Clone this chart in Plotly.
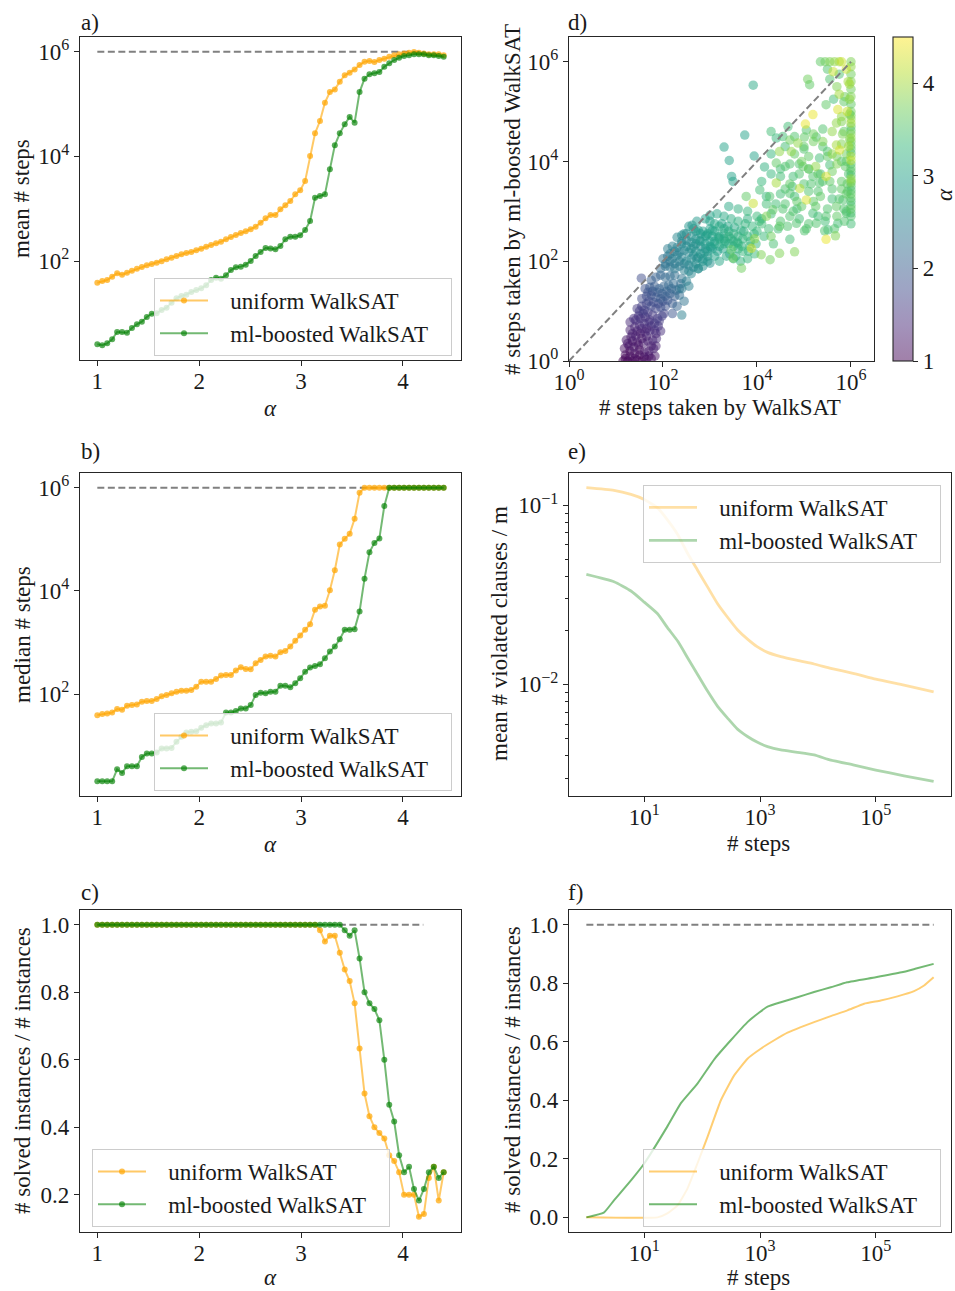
import plotly.graph_objects as go
from plotly.colors import sequential, hex_to_rgb

W, H = 955, 1291
FONT = "Liberation Serif"
FS = 23
TXT = "#1a1a1a"


def px(x):
    return x / W


def py(y):
    return 1 - y / H


# ---------------- data ----------------
alpha = [1.0, 1.0486, 1.0971, 1.1457, 1.1943, 1.2429, 1.2914, 1.34, 1.3886, 1.4371,
         1.4857, 1.5343, 1.5829, 1.6314, 1.68, 1.7286, 1.7771, 1.8257, 1.8743, 1.9229,
         1.9714, 2.02, 2.0686, 2.1171, 2.1657, 2.2143, 2.2629, 2.3114, 2.36, 2.4086,
         2.4571, 2.5057, 2.5543, 2.6029, 2.6514, 2.7, 2.7486, 2.7971, 2.8457, 2.8943,
         2.9429, 2.9914, 3.04, 3.0886, 3.1371, 3.1857, 3.2343, 3.2829, 3.3314, 3.38,
         3.4286, 3.4771, 3.5257, 3.5743, 3.6229, 3.6714, 3.72, 3.7686, 3.8171, 3.8657,
         3.9143, 3.9629, 4.0114, 4.06, 4.1086, 4.1571, 4.2057, 4.2543, 4.3029, 4.3514, 4.4]

# panel a: log10(mean # steps)
a_uniform_log10 = [1.586, 1.618, 1.637, 1.701, 1.764, 1.739, 1.777, 1.815, 1.854, 1.885,
                   1.917, 1.943, 1.968, 1.994, 2.032, 2.064, 2.096, 2.127, 2.153, 2.172,
                   2.204, 2.236, 2.274, 2.306, 2.338, 2.370, 2.414, 2.459, 2.497, 2.535,
                   2.567, 2.605, 2.656, 2.733, 2.815, 2.880, 2.879, 2.987, 3.064, 3.147,
                   3.274, 3.350, 3.529, 4.006, 4.440, 4.675, 5.026, 5.229, 5.280, 5.427,
                   5.548, 5.599, 5.662, 5.745, 5.809, 5.822, 5.803, 5.841, 5.866, 5.905,
                   5.930, 5.949, 5.968, 5.981, 5.994, 5.981, 5.968, 5.949, 5.949, 5.949, 5.930]
a_ml_log10 = [0.408, 0.389, 0.427, 0.503, 0.643, 0.643, 0.631, 0.720, 0.790, 0.841,
              0.930, 0.994, 1.000, 1.064, 1.108, 1.204, 1.287, 1.331, 1.357, 1.408,
              1.446, 1.478, 1.535, 1.637, 1.682, 1.663, 1.726, 1.828, 1.879, 1.892,
              1.930, 2.000, 2.096, 2.172, 2.250, 2.240, 2.223, 2.287, 2.414, 2.465,
              2.465, 2.491, 2.592, 2.764, 3.210, 3.242, 3.274, 3.752, 4.210, 4.440,
              4.612, 4.752, 4.643, 5.229, 5.484, 5.567, 5.586, 5.612, 5.713, 5.777,
              5.841, 5.885, 5.917, 5.930, 5.949, 5.949, 5.949, 5.930, 5.930, 5.917, 5.905]

# panel b: log10(median # steps)
b_uniform_log10 = [1.591, 1.611, 1.624, 1.643, 1.708, 1.695, 1.773, 1.786, 1.799, 1.851,
                   1.864, 1.864, 1.903, 1.955, 1.980, 2.013, 2.045, 2.065, 2.065, 2.078,
                   2.143, 2.240, 2.240, 2.240, 2.292, 2.357, 2.370, 2.370, 2.454, 2.519,
                   2.486, 2.480, 2.596, 2.661, 2.726, 2.740, 2.726, 2.810, 2.836, 2.921,
                   3.031, 3.134, 3.245, 3.355, 3.634, 3.699, 3.712, 4.010, 4.399, 4.898,
                   5.008, 5.105, 5.397, 5.903, 6.0, 6.0, 6.0, 6.0, 6.0, 6.0,
                   6.0, 6.0, 6.0, 6.0, 6.0, 6.0, 6.0, 6.0, 6.0, 6.0, 6.0]
b_ml_log10 = [0.308, 0.308, 0.308, 0.308, 0.541, 0.470, 0.600, 0.600, 0.600, 0.781,
              0.846, 0.846, 0.866, 0.943, 0.943, 0.956, 1.073, 1.170, 1.254, 1.267,
              1.280, 1.345, 1.397, 1.429, 1.429, 1.449, 1.643, 1.643, 1.669, 1.721,
              1.721, 1.786, 1.981, 2.026, 2.013, 2.045, 2.045, 2.162, 2.162, 2.130,
              2.208, 2.305, 2.434, 2.512, 2.545, 2.577, 2.694, 2.823, 2.921, 3.063,
              3.245, 3.245, 3.258, 3.601, 4.237, 4.749, 4.930, 5.015, 5.643, 6.0,
              6.0, 6.0, 6.0, 6.0, 6.0, 6.0, 6.0, 6.0, 6.0, 6.0, 6.0]

# panel c: solved fraction
c_uniform = [1.0, 1.0, 1.0, 1.0, 1.0, 1.0, 1.0, 1.0, 1.0, 1.0,
             1.0, 1.0, 1.0, 1.0, 1.0, 1.0, 1.0, 1.0, 1.0, 1.0,
             1.0, 1.0, 1.0, 1.0, 1.0, 1.0, 1.0, 1.0, 1.0, 1.0,
             1.0, 1.0, 1.0, 1.0, 1.0, 1.0, 1.0, 1.0, 1.0, 1.0,
             1.0, 1.0, 1.0, 1.0, 1.0, 0.983, 0.95, 0.967, 0.967, 0.917,
             0.867, 0.833, 0.767, 0.633, 0.5, 0.433, 0.4, 0.383, 0.367, 0.317,
             0.3, 0.267, 0.2, 0.2, 0.2, 0.135, 0.143, 0.25, 0.283, 0.183, 0.267]
c_ml = [1.0, 1.0, 1.0, 1.0, 1.0, 1.0, 1.0, 1.0, 1.0, 1.0,
        1.0, 1.0, 1.0, 1.0, 1.0, 1.0, 1.0, 1.0, 1.0, 1.0,
        1.0, 1.0, 1.0, 1.0, 1.0, 1.0, 1.0, 1.0, 1.0, 1.0,
        1.0, 1.0, 1.0, 1.0, 1.0, 1.0, 1.0, 1.0, 1.0, 1.0,
        1.0, 1.0, 1.0, 1.0, 1.0, 1.0, 1.0, 1.0, 1.0, 1.0,
        0.983, 0.967, 0.983, 0.9, 0.8, 0.767, 0.75, 0.717, 0.6, 0.467,
        0.417, 0.317, 0.267, 0.283, 0.217, 0.183, 0.217, 0.267, 0.283, 0.25, 0.267]

# panel d: log10 of steps (x: WalkSAT, y: ml-boosted) and alpha, grouped by region
r1_x = [1.15, 1.25, 1.35, 1.45, 1.55, 1.65, 1.75, 1.83, 1.2, 1.3, 1.4, 1.5, 1.6, 1.7, 1.8,
        1.18, 1.28, 1.38, 1.48, 1.58, 1.68, 1.78, 1.86, 1.22, 1.32, 1.42, 1.52, 1.62, 1.72, 1.82,
        1.3, 1.4, 1.5, 1.6, 1.7, 1.9, 1.2, 1.3, 1.4, 1.5, 1.6, 1.7, 1.35, 1.45, 1.55, 1.65, 1.75, 1.85]
r1_y = [0.0, 0.0, 0.0, 0.02, 0.0, 0.03, 0.05, 0.1, 0.12, 0.1, 0.15, 0.12, 0.18, 0.2, 0.25,
        0.25, 0.3, 0.28, 0.32, 0.36, 0.4, 0.42, 0.45, 0.42, 0.48, 0.5, 0.55, 0.58, 0.6, 0.62,
        0.62, 0.68, 0.72, 0.75, 0.78, 0.7, 0.05, 0.2, 0.05, 0.22, 0.08, 0.1, 0.4, 0.6, 0.45, 0.65, 0.3, 0.3]
r1_a = [1.0, 1.05, 1.0, 1.1, 1.0, 1.15, 1.1, 1.2, 1.05, 1.1, 1.15, 1.05, 1.2, 1.25, 1.3,
        1.1, 1.15, 1.2, 1.1, 1.25, 1.3, 1.35, 1.4, 1.2, 1.25, 1.3, 1.2, 1.35, 1.4, 1.45,
        1.3, 1.35, 1.4, 1.45, 1.5, 1.5, 1.0, 1.05, 1.05, 1.1, 1.1, 1.15, 1.15, 1.25, 1.2, 1.3, 1.25, 1.3]

r2_x = [1.38, 1.48, 1.58, 1.68, 1.78, 1.88, 1.98, 1.45, 1.55, 1.65, 1.75, 1.85, 1.95, 2.05, 2.2,
        1.55, 1.65, 1.75, 1.85, 1.95, 2.05, 2.15, 1.62, 1.72, 1.82, 1.92, 2.02, 2.12, 2.22, 2.35,
        1.54, 1.75, 1.85, 1.95, 2.05, 2.15, 2.25, 2.4, 2.2, 2.3, 2.4, 2.45, 2.35]
r2_y = [0.85, 0.9, 0.95, 0.98, 0.92, 0.85, 0.9, 1.05, 1.1, 1.15, 1.1, 1.05, 1.08, 1.1, 1.15,
        1.25, 1.3, 1.32, 1.28, 1.25, 1.3, 1.35, 1.45, 1.48, 1.5, 1.45, 1.5, 1.52, 1.55, 1.45,
        1.66, 1.62, 1.68, 1.72, 1.68, 1.7, 1.72, 1.65, 0.95, 1.1, 0.92, 1.2, 1.32]
r2_a = [1.45, 1.5, 1.55, 1.6, 1.55, 1.6, 1.65, 1.6, 1.65, 1.7, 1.75, 1.7, 1.8, 1.85, 1.95,
        1.75, 1.8, 1.85, 1.9, 1.95, 2.0, 2.05, 1.85, 1.95, 2.0, 2.05, 2.1, 2.15, 2.2, 2.25,
        1.8, 2.0, 2.05, 2.1, 2.15, 2.2, 2.25, 2.3, 1.9, 2.1, 2.5, 2.3, 2.2]

r3_x = [1.95, 2.05, 2.15, 2.25, 2.35, 2.45, 2.55, 2.0, 2.1, 2.2, 2.3, 2.4, 2.5, 2.6, 2.7,
        2.1, 2.2, 2.3, 2.4, 2.5, 2.6, 2.7, 2.8, 2.3, 2.4, 2.5, 2.6, 2.7, 2.8, 2.9,
        2.55, 2.65, 2.75, 2.85, 2.95, 3.05, 2.5, 2.6, 2.75, 2.85, 2.95, 3.0, 2.4, 2.55,
        2.45, 2.62, 2.72, 2.9, 3.0]
r3_y = [1.85, 1.9, 1.88, 1.85, 1.9, 1.82, 1.8, 2.05, 2.1, 2.05, 2.12, 2.08, 2.0, 2.05, 1.95,
        2.25, 2.3, 2.28, 2.35, 2.3, 2.25, 2.2, 2.15, 2.48, 2.52, 2.55, 2.5, 2.45, 2.4, 2.35,
        2.7, 2.65, 2.62, 2.6, 2.55, 2.5, 1.6, 1.75, 1.85, 2.0, 2.1, 1.96, 1.45, 1.5,
        2.55, 2.72, 2.8, 2.85, 2.92]
r3_a = [2.2, 2.3, 2.35, 2.4, 2.45, 2.5, 2.55, 2.3, 2.35, 2.45, 2.5, 2.55, 2.6, 2.65, 2.7,
        2.45, 2.5, 2.55, 2.6, 2.65, 2.7, 2.75, 2.8, 2.6, 2.65, 2.7, 2.75, 2.8, 2.85, 2.9,
        2.8, 2.85, 2.9, 2.95, 3.0, 3.0, 2.5, 2.6, 2.7, 2.8, 2.85, 2.75, 2.4, 2.5,
        2.7, 2.8, 2.85, 2.95, 3.0]

r4_x = [3.0, 3.1, 3.2, 3.3, 3.4, 3.5, 3.6, 3.7, 3.8, 3.0, 3.1, 3.2, 3.3, 3.4, 3.5, 3.6, 3.7, 3.85,
        3.1, 3.2, 3.35, 3.5, 3.65, 3.8, 3.95, 3.15, 3.3, 3.45, 3.6, 3.75, 3.9, 4.0,
        3.4, 3.6, 3.8, 4.0, 4.1]
r4_y = [2.8, 2.75, 2.7, 2.65, 2.6, 2.55, 2.5, 2.45, 2.5, 2.4, 2.35, 2.3, 2.45, 2.35, 2.3, 2.25, 2.2, 2.3,
        2.1, 2.0, 2.1, 2.05, 2.0, 2.05, 2.15, 2.95, 2.9, 2.85, 2.8, 2.75, 2.7, 2.6,
        3.1, 3.05, 3.0, 2.9, 2.75]
r4_a = [3.0, 3.05, 3.1, 3.1, 3.15, 3.2, 3.2, 3.25, 3.3, 2.95, 3.0, 3.05, 3.1, 3.15, 3.2, 3.25, 3.3, 3.35,
        3.0, 3.05, 3.1, 3.2, 3.25, 3.3, 3.35, 3.05, 3.1, 3.15, 3.2, 3.25, 3.3, 3.35,
        3.1, 3.2, 3.3, 3.35, 3.4]

r5_x = [3.67, 3.49, 3.88, 4.09, 4.28, 4.48, 4.8, 4.7, 4.3, 5.47, 5.67, 5.44, 3.45, 3.95, 4.2, 5.51, 5.01]
r5_y = [1.86, 2.06, 2.26, 2.13, 2.03, 2.16, 2.19, 2.44, 2.5, 2.44, 2.51, 2.61, 2.23, 2.45, 2.9, 2.63, 2.61]
r5_a = [3.7, 3.7, 4.3, 3.8, 3.7, 3.8, 3.8, 3.4, 3.7, 4.4, 3.8, 3.5, 3.6, 3.9, 3.8, 3.4, 3.5]

r6_x = [6.0, 6.0, 6.0, 6.0, 6.0, 6.0, 6.0, 6.0, 6.0, 6.0, 6.0, 6.0, 6.0, 6.0, 6.0, 6.0, 6.0, 6.0,
        6.0, 6.0, 6.0, 6.0, 6.0, 6.0,
        5.9, 5.93, 5.88, 5.95, 5.85, 5.92, 5.87, 5.94, 5.9, 5.86]
r6_y = [2.9, 3.05, 3.2, 3.35, 3.5, 3.65, 3.8, 3.95, 4.1, 4.25, 4.4, 4.55, 4.7, 4.85, 5.0, 5.15, 5.3, 5.45,
        5.6, 5.75, 5.9, 6.0, 2.75, 3.6,
        3.0, 3.4, 3.9, 4.3, 4.6, 5.0, 5.3, 5.6, 5.85, 2.8]
r6_a = [3.5, 3.6, 3.4, 3.6, 3.5, 3.9, 3.5, 3.5, 4.0, 3.6, 3.7, 3.8, 3.6, 3.9, 3.7, 3.6, 3.8, 3.7,
        3.8, 3.7, 3.9, 3.8, 3.4, 3.8,
        3.5, 3.5, 3.6, 4.0, 3.6, 4.2, 3.7, 4.0, 4.2, 3.5]

r7_x = [5.35, 5.45, 5.55, 5.65, 5.75, 5.8, 5.5, 5.62, 5.55, 5.75, 5.08, 5.12, 5.75, 5.8, 5.82, 5.7, 5.85]
r7_y = [6.0, 6.0, 6.0, 6.0, 6.0, 6.0, 5.85, 5.8, 5.65, 5.75, 5.65, 5.54, 5.35, 4.9, 4.55, 5.5, 5.2]
r7_a = [3.6, 3.7, 3.8, 3.9, 4.0, 4.2, 3.5, 4.2, 3.5, 3.5, 3.7, 3.6, 4.0, 3.9, 3.8, 3.8, 3.6]

r8_x = [3.92, 5.63, 5.47, 5.19, 5.03, 4.66, 4.41, 5.01, 5.26, 4.87, 4.73, 4.48, 5.69, 5.72, 5.69, 5.76,
        3.74, 3.3, 3.41, 3.94, 4.3, 4.55, 4.1, 4.3, 4.7, 5.05]
r8_y = [5.53, 5.25, 5.14, 4.94, 4.75, 4.70, 4.47, 4.49, 4.49, 4.37, 4.2, 4.2, 4.77, 5.04, 4.33, 4.23,
        4.53, 4.29, 4.02, 4.11, 4.15, 4.5, 3.6, 4.6, 4.43, 4.63]
r8_a = [3.1, 3.4, 3.6, 4.4, 4.4, 3.4, 3.3, 3.6, 3.5, 3.9, 3.9, 3.9, 3.9, 4.3, 4.0, 4.3,
        3.0, 3.0, 3.0, 3.0, 3.3, 3.4, 3.3, 3.4, 3.7, 3.5]

r9_x = [3.46, 3.49, 4.16, 4.41, 4.77, 4.98, 5.33, 5.55, 5.19, 5.47, 5.33, 4.91, 5.05, 4.7, 4.41,
        4.27, 4.06, 3.92, 3.77, 4.34, 4.77, 5.19, 5.47, 5.69, 5.83, 5.9, 5.72, 5.26, 4.84, 4.48,
        4.6, 4.85, 5.1, 5.35, 5.6, 5.6, 5.4, 5.1, 4.6, 4.95, 5.25, 5.8, 5.8, 4.5, 4.2]
r9_y = [3.7, 3.6, 3.89, 3.97, 3.7, 3.9, 4.07, 3.93, 3.7, 3.7, 3.57, 3.46, 3.23, 3.36, 3.57,
        3.3, 3.43, 3.16, 3.3, 3.03, 3.0, 2.96, 2.9, 3.1, 3.23, 2.96, 2.76, 2.76, 2.76, 2.7,
        3.15, 3.2, 3.4, 3.3, 3.45, 3.8, 4.3, 4.1, 3.9, 4.0, 3.9, 3.6, 4.0, 3.35, 3.15]
r9_a = [3.0, 3.0, 3.2, 3.6, 3.4, 3.6, 3.4, 3.4, 3.5, 4.3, 3.5, 4.1, 4.3, 3.5, 4.0,
        3.5, 3.4, 4.2, 3.6, 3.6, 3.5, 3.4, 3.5, 3.6, 3.5, 3.5, 3.4, 3.5, 3.5, 3.6,
        3.5, 3.6, 3.5, 3.6, 3.5, 3.7, 3.5, 3.6, 3.5, 3.7, 3.9, 3.6, 3.5, 3.4, 3.4]

r10_x = [1.25, 1.35, 1.45, 1.55, 1.65, 1.75, 1.85, 1.95, 1.3, 1.42, 1.52, 1.62, 1.72, 1.82, 1.92, 2.02,
         1.5, 1.6, 1.7, 1.8, 1.9, 2.0, 2.1, 2.25, 1.68, 1.78, 1.88, 1.98, 2.08, 2.18, 2.28, 2.38]
r10_y = [0.35, 0.55, 0.38, 0.65, 0.5, 0.7, 0.55, 0.6, 0.78, 0.82, 0.85, 0.88, 0.82, 0.75, 0.8, 0.95,
         1.0, 1.02, 1.2, 1.18, 1.15, 1.2, 1.22, 1.3, 1.38, 1.4, 1.38, 1.35, 1.4, 1.45, 1.42, 1.55]
r10_a = [1.2, 1.3, 1.2, 1.35, 1.3, 1.4, 1.35, 1.45, 1.4, 1.45, 1.5, 1.5, 1.5, 1.55, 1.6, 1.7,
         1.6, 1.65, 1.75, 1.8, 1.8, 1.85, 1.9, 2.0, 1.85, 1.9, 1.95, 2.0, 2.05, 2.1, 2.15, 2.2]

r11_x = [2.05, 2.15, 2.25, 2.35, 2.45, 2.55, 2.65, 2.75, 2.85, 2.95,
         2.15, 2.25, 2.35, 2.45, 2.55, 2.65, 2.75, 2.85, 2.95, 3.05,
         2.4, 2.5, 2.6, 2.7, 2.8, 2.9, 3.0, 3.1, 3.2, 3.3,
         2.7, 2.8, 2.9, 3.0, 3.1, 3.2, 3.3, 3.4, 3.5, 3.6]
r11_y = [1.95, 2.0, 1.95, 2.0, 1.95, 1.92, 1.88, 1.85, 1.9, 2.0,
         2.15, 2.2, 2.18, 2.22, 2.18, 2.12, 2.08, 2.05, 2.2, 2.25,
         2.4, 2.42, 2.38, 2.35, 2.3, 2.25, 2.3, 2.4, 2.5, 2.55,
         2.6, 2.55, 2.5, 2.65, 2.6, 2.45, 2.35, 2.5, 2.4, 2.35]
r11_a = [2.3, 2.35, 2.4, 2.45, 2.5, 2.55, 2.6, 2.65, 2.7, 2.8,
         2.4, 2.45, 2.5, 2.55, 2.6, 2.65, 2.7, 2.75, 2.85, 2.9,
         2.55, 2.6, 2.65, 2.7, 2.75, 2.8, 2.9, 3.0, 3.05, 3.1,
         2.8, 2.85, 2.9, 3.0, 3.05, 3.1, 3.15, 3.2, 3.2, 3.25]

r12_x = [4.1, 4.3, 4.5, 4.7, 4.9, 5.1, 5.3, 5.5, 5.7, 5.9,
         4.2, 4.4, 4.6, 4.8, 5.0, 5.2, 5.4, 5.6, 5.8, 5.95,
         4.3, 4.5, 4.7, 4.9, 5.1, 5.3, 5.5, 5.7, 5.9, 5.97,
         4.6, 4.8, 5.0, 5.2, 5.4, 5.6, 5.8, 5.97, 5.97, 5.97]
r12_y = [2.85, 2.95, 2.8, 2.9, 2.85, 2.75, 2.9, 3.05, 2.9, 3.35,
         3.3, 3.15, 3.45, 3.3, 3.55, 3.2, 3.6, 3.25, 3.45, 3.75,
         3.75, 3.7, 3.95, 3.75, 3.85, 3.75, 4.2, 4.1, 4.0, 4.45,
         4.3, 4.15, 4.25, 4.4, 4.65, 4.6, 4.8, 4.95, 5.25, 5.55]
r12_a = [3.3, 3.4, 3.5, 3.5, 3.4, 3.5, 3.4, 3.5, 3.6, 3.6,
         3.3, 3.4, 3.5, 3.4, 3.5, 3.6, 3.5, 3.4, 3.6, 3.5,
         3.3, 3.4, 3.5, 3.5, 3.4, 3.6, 3.5, 3.7, 3.6, 3.8,
         3.4, 3.6, 3.5, 3.7, 3.5, 3.9, 3.8, 3.7, 3.9, 4.0]

r13_x = [2.65, 2.78, 2.92, 3.05, 3.18, 3.32, 3.45, 3.58, 3.72, 3.86,
         2.72, 2.88, 3.02, 3.16, 3.28, 3.42, 3.55, 3.68, 3.82, 3.98,
         3.25, 3.38, 3.52, 3.66, 3.8, 3.94, 4.05, 4.15, 4.25, 4.35]
r13_y = [2.3, 2.42, 2.52, 2.62, 2.48, 2.4, 2.45, 2.38, 2.6, 2.4,
         2.05, 2.18, 2.28, 2.2, 2.25, 2.15, 2.1, 2.3, 2.2, 2.35,
         2.75, 2.7, 2.68, 2.62, 2.85, 2.55, 2.8, 2.5, 2.65, 2.35]
r13_a = [2.75, 2.8, 2.9, 2.95, 3.0, 3.05, 3.1, 3.15, 3.2, 3.25,
         2.7, 2.8, 2.9, 2.95, 3.0, 3.1, 3.15, 3.2, 3.25, 3.3,
         3.0, 3.05, 3.1, 3.15, 3.2, 3.25, 3.3, 3.35, 3.4, 3.45]

r14_x = [4.45, 4.65, 4.85, 5.05, 5.25, 5.45, 5.65, 5.85, 4.55, 4.75, 4.95, 5.15, 5.35, 5.55, 5.75, 5.92,
         4.5, 4.7, 4.9, 5.1, 5.3, 5.5, 5.7, 5.9, 4.8, 5.0, 5.2, 5.4, 5.6, 5.8]
r14_y = [2.65, 2.7, 3.05, 2.65, 3.1, 2.8, 2.65, 3.05, 3.05, 3.5, 3.1, 3.55, 3.75, 3.6, 3.25, 3.55,
         3.85, 3.55, 3.95, 3.85, 3.4, 4.1, 3.95, 4.15, 4.5, 4.3, 4.55, 4.4, 4.15, 4.35]
r14_a = [3.4, 3.5, 3.4, 3.5, 3.6, 3.4, 3.5, 3.5, 3.5, 3.4, 3.6, 3.5, 3.4, 3.6, 3.5, 3.6,
         3.4, 3.6, 3.5, 3.7, 3.5, 3.6, 3.8, 3.7, 3.5, 3.6, 3.7, 3.8, 3.9, 3.8]

r15_x = [6.0, 6.0, 6.0, 6.0, 6.0, 6.0, 6.0, 6.0, 6.0, 6.0, 6.0, 6.0, 6.0, 6.0]
r15_y = [2.97, 3.12, 3.27, 3.42, 3.57, 3.72, 3.87, 4.02, 4.17, 4.32, 4.47, 4.62, 4.77, 4.92]
r15_a = [3.4, 3.5, 3.6, 3.5, 3.7, 3.5, 3.6, 4.1, 3.5, 3.7, 3.9, 3.6, 4.0, 3.7]

# panel e: mean violated clauses / m
e_steps = [1, 3, 5.9, 10, 17, 25, 38, 56, 83, 124, 185, 275, 408, 608, 906, 1350,
           2290, 4440, 8600, 16700, 42300, 100000, 308000, 1000000]
e_uniform = [0.1252, 0.1210, 0.1148, 0.1076, 0.0966, 0.0831, 0.0684, 0.0539, 0.0435, 0.0350,
             0.0282, 0.0237, 0.0202, 0.0179, 0.0162, 0.0151, 0.0143, 0.0136, 0.0130, 0.0123,
             0.0115, 0.0107, 0.0099, 0.0091]
e_ml = [0.0411, 0.0374, 0.0332, 0.0288, 0.0248, 0.0208, 0.0174, 0.0141, 0.0114, 0.00918,
        0.00755, 0.00649, 0.00563, 0.00512, 0.00475, 0.00450, 0.00431, 0.00418, 0.00404, 0.00378,
        0.00355, 0.00333, 0.00309, 0.00288]

# panel f: solved fraction vs steps
f_uniform_steps = [1, 17, 25, 38, 56, 83, 124, 211, 358, 608, 1030, 1760, 2990, 5070, 8600,
                   16700, 32400, 63000, 122000, 237000, 459000, 684000, 1000000]
f_uniform = [0.0, 0.0, 0.0136, 0.042, 0.099, 0.184, 0.275, 0.40, 0.485, 0.542, 0.576, 0.605,
             0.631, 0.65, 0.667, 0.6875, 0.707, 0.730, 0.741, 0.755, 0.773, 0.792, 0.82]
f_ml_steps = [1, 2, 3, 6, 10, 25, 43, 83, 162, 313, 608, 970, 1350, 2290, 4440, 8600,
              16700, 32000, 100000, 280000, 480000, 1000000]
f_ml = [0.0, 0.016, 0.058, 0.128, 0.184, 0.31, 0.39, 0.457, 0.54, 0.605, 0.667, 0.70, 0.72,
        0.735, 0.752, 0.77, 0.786, 0.803, 0.82, 0.837, 0.849, 0.866]

max_steps = 1000000
ref_alpha = [1.0, 4.2]

names = ["uniform WalkSAT", "ml-boosted WalkSAT"]

# ---------------- figure ----------------
fig = go.Figure()

OR_L = "rgba(255,165,0,0.6)"
OR_M = "rgba(255,165,0,0.7)"
GR_L = "rgba(0,128,0,0.55)"
GR_M = "rgba(0,128,0,0.65)"
DASH = dict(color="#808080", width=2, dash="7px,3.5px")


def label(n):
    return "\u00a0\u00a0\u00a0" + n + "\u00a0\u00a0\u00a0"


def pow10(v):
    return [10 ** t for t in v]


def ref_line(x, y, xa, ya):
    fig.add_trace(go.Scatter(x=x, y=y, mode="lines", line=DASH, xaxis=xa, yaxis=ya,
                             showlegend=False, hoverinfo="skip"))


def lm(x, y, lc, mc, name, xa, ya, leg):
    fig.add_trace(go.Scatter(x=x, y=y, mode="lines+markers", name=label(name),
                             line=dict(color=lc, width=2), marker=dict(color=mc, size=6),
                             xaxis=xa, yaxis=ya, legend=leg, legendgroup=leg + name))


# a
ref_line(ref_alpha, [max_steps, max_steps], "x", "y")
lm(alpha, pow10(a_uniform_log10), OR_L, OR_M, names[0], "x", "y", "legend")
lm(alpha, pow10(a_ml_log10), GR_L, GR_M, names[1], "x", "y", "legend")
# b
ref_line(ref_alpha, [max_steps, max_steps], "x2", "y2")
lm(alpha, pow10(b_uniform_log10), OR_L, OR_M, names[0], "x2", "y2", "legend2")
lm(alpha, pow10(b_ml_log10), GR_L, GR_M, names[1], "x2", "y2", "legend2")
# c
ref_line(ref_alpha, [1.0, 1.0], "x3", "y3")
lm(alpha, c_uniform, OR_L, OR_M, names[0], "x3", "y3", "legend3")
lm(alpha, c_ml, GR_L, GR_M, names[1], "x3", "y3", "legend3")

# d
d_lx = (r1_x + r10_x + r2_x + r3_x + r11_x + r13_x + r4_x + r5_x + r12_x + r14_x + r15_x
        + r6_x + r7_x + r8_x + r9_x)
d_ly = (r1_y + r10_y + r2_y + r3_y + r11_y + r13_y + r4_y + r5_y + r12_y + r14_y + r15_y
        + r6_y + r7_y + r8_y + r9_y)
d_a = (r1_a + r10_a + r2_a + r3_a + r11_a + r13_a + r4_a + r5_a + r12_a + r14_a + r15_a
       + r6_a + r7_a + r8_a + r9_a)
n = min(len(d_lx), len(d_ly), len(d_a))
order = sorted(range(n), key=lambda i: d_a[i])
fig.add_trace(go.Scatter(x=[10 ** d_lx[i] for i in order], y=[10 ** d_ly[i] for i in order],
                         mode="markers",
                         marker=dict(size=9.5, color=[d_a[i] for i in order], colorscale="Viridis",
                                     cmin=1, cmax=4.5, opacity=0.5, line=dict(width=0)),
                         xaxis="x4", yaxis="y4", showlegend=False))
ref_line([1, max_steps], [1, max_steps], "x4", "y4")

faded = []
vir = sequential.Viridis
for i, c in enumerate(vir):
    r, g, b = hex_to_rgb(c)
    faded.append([i / (len(vir) - 1),
                  "rgb(%d,%d,%d)" % ((r + 255) / 2, (g + 255) / 2, (b + 255) / 2)])
fig.add_trace(go.Scatter(x=[None, None], y=[None, None], mode="markers",
                         marker=dict(color=[1, 4.5], colorscale=faded, cmin=1, cmax=4.5,
                                     showscale=True,
                                     colorbar=dict(x=px(893), xanchor="left", xpad=0,
                                                   y=1 - 199 / H, yanchor="middle", ypad=0,
                                                   len=324 / H, lenmode="fraction",
                                                   thickness=20, thicknessmode="pixels",
                                                   outlinewidth=1.1, outlinecolor="#262626",
                                                   ticks="outside", ticklen=5, tickwidth=1.1,
                                                   tickcolor="#262626",
                                                   tickvals=[1, 2, 3, 4],
                                                   tickfont=dict(family=FONT, size=FS, color=TXT))),
                         xaxis="x4", yaxis="y4", showlegend=False, hoverinfo="skip"))

# e
fig.add_trace(go.Scatter(x=e_steps, y=e_uniform, mode="lines", name=label(names[0]),
                         line=dict(color="rgba(255,165,0,0.35)", width=2.8, shape="spline", smoothing=0.5),
                         xaxis="x5", yaxis="y5", legend="legend4", legendgroup="e0"))
fig.add_trace(go.Scatter(x=e_steps, y=e_ml, mode="lines", name=label(names[1]),
                         line=dict(color="rgba(0,128,0,0.32)", width=2.8, shape="spline", smoothing=0.5),
                         xaxis="x5", yaxis="y5", legend="legend4", legendgroup="e1"))
# f
ref_line([1, max_steps], [1.0, 1.0], "x6", "y6")
fig.add_trace(go.Scatter(x=f_uniform_steps, y=f_uniform, mode="lines", name=label(names[0]),
                         line=dict(color="rgba(255,165,0,0.55)", width=2, shape="spline", smoothing=0.4),
                         xaxis="x6", yaxis="y6", legend="legend5", legendgroup="f0"))
fig.add_trace(go.Scatter(x=f_ml_steps, y=f_ml, mode="lines", name=label(names[1]),
                         line=dict(color="rgba(0,128,0,0.55)", width=2, shape="spline", smoothing=0.4),
                         xaxis="x6", yaxis="y6", legend="legend5", legendgroup="f1"))

# ---------------- axes ----------------
AX = dict(showline=True, mirror=True, linecolor="#262626", linewidth=1.1, ticks="outside",
          ticklen=5, tickwidth=1.1, tickcolor="#262626", showgrid=False, zeroline=False,
          automargin=False, tickfont=dict(family=FONT, size=FS, color=TXT))
AXX = dict(AX, ticklabelstandoff=-5)

XA = [px(80), px(461)]
XR = [px(569), px(951)]
XD = [px(569), px(874)]
Y1 = [py(360), py(37)]
Y2 = [py(796), py(473)]
Y3 = [py(1232), py(910)]
YD = [py(361), py(37.3)]

alpha_ticks = dict(tickvals=[1, 2, 3, 4], ticktext=["1", "2", "3", "4"], range=[0.83, 4.57])
log_steps_ticks = dict(type="log", tickvals=[100, 1e4, 1e6],
                       ticktext=["10<sup>2</sup>", "10<sup>4</sup>", "10<sup>6</sup>"])

fig.update_layout(
    xaxis=dict(AXX, domain=XA, anchor="y", **alpha_ticks),
    yaxis=dict(AX, domain=Y1, anchor="x", range=[0.108, 6.281], **log_steps_ticks),
    xaxis2=dict(AXX, domain=XA, anchor="y2", **alpha_ticks),
    yaxis2=dict(AX, domain=Y2, anchor="x2", range=[0.0234, 6.2846], **log_steps_ticks),
    xaxis3=dict(AXX, domain=XA, anchor="y3", **alpha_ticks),
    yaxis3=dict(AX, domain=Y3, anchor="x3", range=[0.09, 1.0433],
                tickvals=[0.2, 0.4, 0.6, 0.8, 1.0], ticktext=["0.2", "0.4", "0.6", "0.8", "1.0"]),
    xaxis4=dict(AXX, domain=XD, anchor="y4", type="log", range=[0, 6.49],
                tickvals=[1, 100, 1e4, 1e6],
                ticktext=["10<sup>0</sup>", "10<sup>2</sup>", "10<sup>4</sup>", "10<sup>6</sup>"]),
    yaxis4=dict(AX, domain=YD, anchor="x4", type="log", range=[0, 6.49],
                tickvals=[1, 100, 1e4, 1e6],
                ticktext=["10<sup>0</sup>", "10<sup>2</sup>", "10<sup>4</sup>", "10<sup>6</sup>"]),
    xaxis5=dict(AXX, domain=XR, anchor="y5", type="log", range=[-0.3, 6.3],
                tickvals=[10, 1000, 100000],
                ticktext=["10<sup>1</sup>", "10<sup>3</sup>", "10<sup>5</sup>"]),
    yaxis5=dict(AX, domain=Y2, anchor="x5", type="log", range=[-2.6225, -0.8205],
                tickvals=[0.01, 0.1], ticktext=["10<sup>\u22122</sup>", "10<sup>\u22121</sup>"],
                minor=dict(ticks="outside", ticklen=3, tickwidth=0.9, tickcolor="#262626",
                           tickmode="array",
                           tickvals=[0.003, 0.004, 0.005, 0.006, 0.007, 0.008, 0.009,
                                     0.02, 0.03, 0.04, 0.05, 0.06, 0.07, 0.08, 0.09])),
    xaxis6=dict(AXX, domain=XR, anchor="y6", type="log", range=[-0.3, 6.3],
                tickvals=[10, 1000, 100000],
                ticktext=["10<sup>1</sup>", "10<sup>3</sup>", "10<sup>5</sup>"]),
    yaxis6=dict(AX, domain=Y3, anchor="x6", range=[-0.05, 1.05],
                tickvals=[0, 0.2, 0.4, 0.6, 0.8, 1.0],
                ticktext=["0.0", "0.2", "0.4", "0.6", "0.8", "1.0"]),
)

LEG = dict(xanchor="left", yanchor="top", bgcolor="rgba(255,255,255,0.8)", bordercolor="#cccccc",
           borderwidth=1, font=dict(family=FONT, size=FS, color=TXT), tracegroupgap=0,
           traceorder="grouped", itemwidth=48)
fig.update_layout(
    legend=dict(LEG, x=px(154), y=py(278)),
    legend2=dict(LEG, x=px(154), y=py(713)),
    legend3=dict(LEG, x=px(92), y=py(1149)),
    legend4=dict(LEG, x=px(643), y=py(485)),
    legend5=dict(LEG, x=px(643), y=py(1149)),
)

# ---------------- annotations ----------------
ann = []


def txt(x, y, s, angle=0, xanchor="center"):
    ann.append(dict(x=px(x), y=py(y), xref="paper", yref="paper", text=s, showarrow=False,
                    textangle=angle, xanchor=xanchor, yanchor="middle",
                    font=dict(family=FONT, size=FS, color=TXT)))


for lx, ly, s in [(79, 22, "a)"), (79, 452, "b)"), (79, 892, "c)"),
                  (566, 22, "d)"), (566, 452, "e)"), (566, 892, "f)")]:
    txt(lx, ly, s, xanchor="left")

txt(270, 408, "<i>α</i>")
txt(270, 845, "<i>α</i>")
txt(270, 1277, "<i>α</i>")
txt(720, 407, "# steps taken by WalkSAT")
txt(758, 843, "# steps")
txt(758, 1277, "# steps")
txt(21, 199, "mean # steps", -90)
txt(22, 635, "median # steps", -90)
txt(22, 1071, "# solved instances / # instances", -90)
txt(512, 200, "# steps taken by ml-boosted WalkSAT", -90)
txt(500, 634, "mean # violated clauses / m", -90)
txt(512, 1070, "# solved instances / # instances", -90)
txt(944, 195, "<i>α</i>", -90)

fig.update_layout(annotations=ann, width=W, height=H,
                  margin=dict(l=0, r=0, t=0, b=0, pad=0, autoexpand=False),
                  paper_bgcolor="white", plot_bgcolor="white", showlegend=True,
                  font=dict(family=FONT, size=FS, color=TXT))

fig.write_html("out.html", config={"displayModeBar": False},
               post_script="document.body.style.margin='0px';document.body.style.padding='0px';")
